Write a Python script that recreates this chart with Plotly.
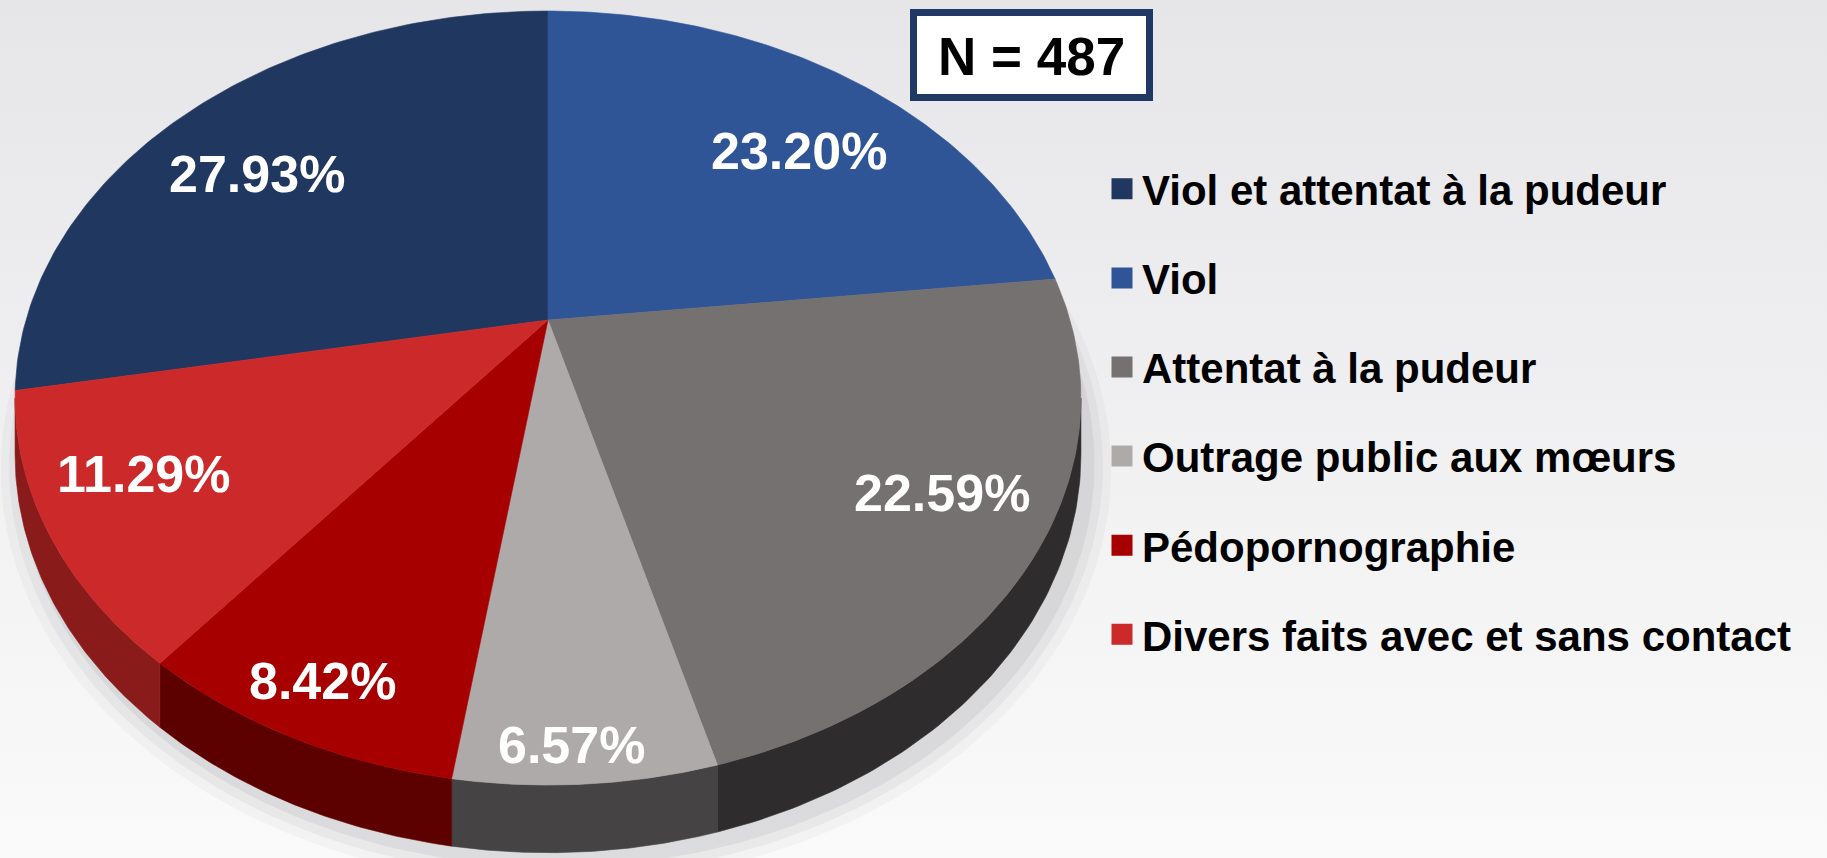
import numpy as np
import plotly.graph_objects as go

# ---------------- data ----------------
categories = [
    "Viol et attentat à la pudeur",
    "Viol",
    "Attentat à la pudeur",
    "Outrage public aux mœurs",
    "Pédopornographie",
    "Divers faits avec et sans contact",
]
values = [27.93, 23.20, 22.59, 6.57, 8.42, 11.29]
value_labels = ["27.93%", "23.20%", "22.59%", "6.57%", "8.42%", "11.29%"]
n_total = 487

# ---------------- styles ----------------
top_colors = ["#20375F", "#2F5597", "#767171", "#AEAAAA", "#A60000", "#CC2A2A"]
side_colors = ["#14243F", "#1E3A68", "#2E2C2C", "#454343", "#5C0000", "#8A1B1B"]
FONT = "Liberation Sans, Arial, sans-serif"

W, H = 1827, 858
# perspective projection of the pie disc (pixel units)
CX, CY = 548, 320
A, B = 522, 371.3
K = 0.2016
DEPTH = 54
label_r = [0.74, 0.73, 0.81, 0.93, 0.89, 0.81]
label_dtheta = [-4.5, 4.8, -2.5, 1.1, 0.3, 2.7]


def proj(theta_deg, r=1.0):
    t = np.radians(theta_deg)
    u = r * np.sin(t)
    v = r * np.cos(t)
    s = 1.0 / (1.0 + K * v)
    return CX + A * u * s, CY - B * v * s, s


total = float(sum(values))
spans = [v / total * 360.0 for v in values]
start = -spans[0]  # first slice ends at 12 o'clock, drawn clockwise
starts = list(start + np.concatenate([[0.0], np.cumsum(spans)[:-1]]))

fig = go.Figure()

# background gradient
fig.add_trace(go.Scatter(
    x=[0, W, W, 0, 0], y=[0, 0, H, H, 0], mode="lines", fill="toself",
    line=dict(width=0), fillgradient=dict(type="vertical",
                                         colorscale=[[0, "#FAFAFA"], [1, "#E6E6E9"]]),
    hoverinfo="skip", showlegend=False))

# soft shadow under the pie
for grow, alpha in [(1.04, 0.035), (1.025, 0.05), (1.01, 0.07)]:
    th = np.linspace(0, 360, 241)
    xs, ys, ss = proj(th, grow)
    fig.add_trace(go.Scatter(
        x=xs + 8, y=ys + DEPTH * ss + 8, mode="lines", fill="toself",
        line=dict(width=0), fillcolor=f"rgba(60,60,70,{alpha})",
        hoverinfo="skip", showlegend=False))

# side walls (visible front part only)
sil = np.degrees(np.arccos(-K))
vis_lo, vis_hi = sil, 360.0 - sil
for i in range(len(values)):
    a0 = starts[i] % 360.0
    a1 = a0 + spans[i]
    lo, hi = max(a0, vis_lo), min(a1, vis_hi)
    if hi <= lo:
        continue
    th = np.linspace(lo, hi, 80)
    xs, ys, ss = proj(th)
    px = np.concatenate([xs, xs[::-1], xs[:1]])
    py = np.concatenate([ys, (ys + DEPTH * ss)[::-1], ys[:1]])
    fig.add_trace(go.Scatter(
        x=px, y=py, mode="lines", fill="toself", fillcolor=side_colors[i],
        line=dict(width=0.6, color=side_colors[i]), hoverinfo="skip", showlegend=False))

# top faces
for i in range(len(values)):
    th = np.linspace(starts[i], starts[i] + spans[i], 120)
    xs, ys, _ = proj(th)
    px = np.concatenate([[CX], xs, [CX]])
    py = np.concatenate([[CY], ys, [CY]])
    fig.add_trace(go.Scatter(
        x=px, y=py, mode="lines", fill="toself", fillcolor=top_colors[i],
        line=dict(width=0.6, color=top_colors[i]), name=categories[i],
        hoverinfo="name", showlegend=False))

# legend entries
for i in range(len(values)):
    fig.add_trace(go.Scatter(
        x=[None], y=[None], mode="markers", name=categories[i], legendgroup=categories[i],
        marker=dict(symbol="square", size=16, color=top_colors[i],
                    line=dict(color=top_colors[i], width=5)),
        showlegend=True))

annotations = []
for i in range(len(values)):
    mid = starts[i] + spans[i] / 2 + label_dtheta[i]
    lx, ly, _ = proj(mid, label_r[i])
    annotations.append(dict(
        x=lx, y=ly, xref="x", yref="y", text=value_labels[i], showarrow=False,
        font=dict(family=FONT, size=52, color="white", weight="bold")))

annotations.append(dict(
    x=1031, y=56, xref="x", yref="y", text=f"N = {n_total}", showarrow=False,
    font=dict(family=FONT, size=53, color="black", weight="bold")))

fig.update_layout(
    width=W, height=H, margin=dict(l=0, r=0, t=0, b=0),
    paper_bgcolor="#F2F2F4", plot_bgcolor="rgba(0,0,0,0)",
    xaxis=dict(range=[0, W], visible=False, fixedrange=True),
    yaxis=dict(range=[H, 0], visible=False, fixedrange=True),
    showlegend=True,
    legend=dict(x=1102 / W, y=1 - 155 / H, xanchor="left", yanchor="top",
                font=dict(family=FONT, size=42, color="black", weight="bold"),
                tracegroupgap=31.5, bgcolor="rgba(0,0,0,0)", itemclick=False,
                itemdoubleclick=False),
    shapes=[dict(type="rect", xref="x", yref="y", x0=913.5, x1=1149.5, y0=12.5, y1=97.5,
                 line=dict(color="#1F3864", width=7), fillcolor="white", layer="above")],
    annotations=annotations,
)

fig.write_html("out.html", config={"displayModeBar": False},
               post_script="document.body.style.margin='0';")
